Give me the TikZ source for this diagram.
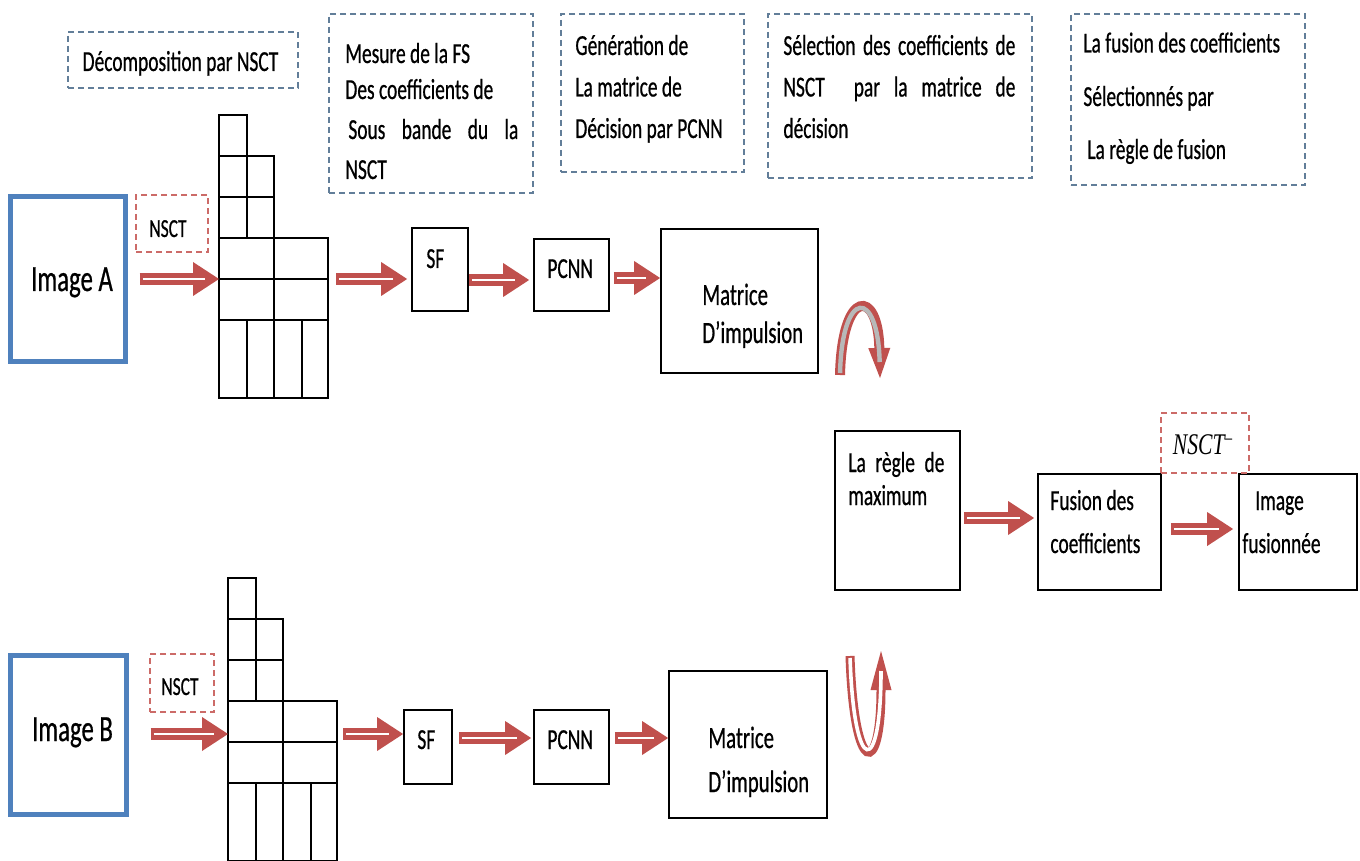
\documentclass[tikz,border=0pt]{standalone}
\usepackage{fontspec}
\usepackage{graphicx}
\setmainfont{Carlito}[FakeStretch=0.67,FakeBold=0.6]
\newfontfamily\serifit{Liberation Serif}[FakeStretch=0.72]
\usetikzlibrary{arrows.meta,calc}

\definecolor{arrowred}{HTML}{C0504D}
\definecolor{imgblue}{HTML}{4F81BD}
\definecolor{noteblue}{HTML}{627E99}
\definecolor{notered}{HTML}{CC6B68}
\definecolor{archfill}{HTML}{B8B8B8}

\tikzset{
  blk/.style={draw=black, line width=0.9pt, inner sep=0pt},
  imgbox/.style={draw=imgblue, line width=2.5pt, inner sep=0pt},
  note/.style={draw=noteblue, line width=0.75pt, dash pattern=on 3pt off 2pt, inner sep=0pt},
  rednote/.style={draw=notered, line width=0.75pt, dash pattern=on 3pt off 2pt, inner sep=0pt},
  txt/.style={inner sep=0pt, anchor=base west, font=\fontsize{14.5pt}{17pt}\selectfont},
  bigtxt/.style={txt, anchor=base, font=\fontsize{18.5pt}{22pt}\selectfont},
  mattxt/.style={txt, font=\fontsize{15.5pt}{18pt}\selectfont},
  smalltxt/.style={txt, anchor=base, font=\fontsize{13pt}{15pt}\selectfont},
  gridline/.style={draw=black, line width=1pt},
  fat/.style={draw=arrowred, line width=6.3pt,
    -{Triangle[length=13pt,width=17pt,line width=0pt]},
    postaction={draw=white, line width=1.2pt, -, shorten <=1.5pt, shorten >=7pt}},
  archarrow/.style={draw=arrowred, line width=5pt,
    -{Triangle[length=15pt,width=11pt,line width=0pt]},
    postaction={draw=archfill, line width=2.2pt, -, shorten <=1pt, shorten >=8pt}},
  uarrow/.style={draw=arrowred, line width=4.5pt,
    -{Triangle[length=19.5pt,width=10.5pt,line width=0pt]},
    postaction={draw=white, line width=1.8pt, -, shorten <=1pt, shorten >=10pt}},
  decomp/.pic={
    \draw[gridline] (0,0) rectangle (27.5,41);
    \draw[gridline] (0,41) rectangle (55,123);
    \draw[gridline] (0,82) -- (55,82) (27.5,41) -- (27.5,123);
    \draw[gridline] (0,123) rectangle (109,205);
    \draw[gridline] (0,164) -- (109,164) (55,123) -- (55,205);
    \draw[gridline] (0,205) rectangle (109,283);
    \draw[gridline] (27.5,205) -- (27.5,283) (55,205) -- (55,283) (82.5,205) -- (82.5,283);
    \coordinate (-in) at (0,164);
    \coordinate (-out) at (109,164);
  }
}

\begin{document}
\begin{tikzpicture}[x=0.5pt,y=-0.5pt]
\fill[white] (0,0) rectangle (1360,861);
\useasboundingbox (0,0) rectangle (1360,861);

% ---- explanatory notes along the top ----
\node[note, minimum width=115pt, minimum height=28pt] (n1) at (183,60) {};
\node[txt, anchor=base] (n1t) at (180.5,71) {Décomposition par NSCT};

\node[note, minimum width=102pt, minimum height=89.5pt] (n2) at (431,103.5) {};
\node[txt] (n2a) at (345,63) {Mesure de la FS};
\node[txt] (n2b) at (345,99) {Des coefficients de};
\node[txt] (n2c) at (348,139) {\makebox[85pt][s]{Sous bande du la}};
\node[txt] (n2d) at (345,179) {NSCT};

\node[note, minimum width=91.5pt, minimum height=79pt] (n3) at (652.5,93) {};
\node[txt] (n3a) at (575,55) {Génération de};
\node[txt] (n3b) at (575,96.5) {La matrice de};
\node[txt] (n3c) at (575,138) {Décision par PCNN};

\node[note, minimum width=132pt, minimum height=82pt] (n4) at (900,96) {};
\node[txt] (n4a) at (783,55) {\makebox[116pt][s]{Sélection des coefficients de}};
\node[txt] (n4b) at (783,96.5) {\makebox[116pt][s]{NSCT\quad par la matrice de}};
\node[txt] (n4c) at (783,138) {décision};

\node[note, minimum width=117pt, minimum height=85.5pt] (n5) at (1188,99.5) {};
\node[txt] (n5a) at (1083,52.5) {La fusion des coefficients};
\node[txt] (n5b) at (1083,106) {Sélectionnés par};
\node[txt] (n5c) at (1087,159) {La règle de fusion};

% ---- branch A ----
\node[imgbox, minimum width=57.5pt, minimum height=82.5pt] (imgA) at (68,279) {};
\node[bigtxt] (imgAt) at (72,291) {Image A};
\node[rednote, minimum width=36pt, minimum height=28.5pt] (nsA) at (172,223.5) {};
\node[smalltxt] (nsAt) at (168,237) {NSCT};
\pic (gA) at (219,115) {decomp};

\node[blk, minimum width=28pt, minimum height=41.5pt] (sfA) at (440,269.5) {};
\node[txt] (sfAt) at (426,268) {SF};
\node[blk, minimum width=37.5pt, minimum height=36pt] (pcnnA) at (571.5,275) {};
\node[txt] (pcnnAt) at (547,278) {PCNN};
\node[blk, minimum width=78.5pt, minimum height=72pt] (matA) at (739.5,301) {};
\node[mattxt] (matAt1) at (702,305) {Matrice};
\node[mattxt] (matAt2) at (702,343) {D’impulsion};

\path ($(imgA.east)+(11.5,0)$) coordinate (a1s);
\draw[fat] (a1s) -- (a1s -| gA-in);
\path ($(gA-out)+(8,0)$) coordinate (a2s);
\draw[fat] (a2s) -- ($(a2s -| sfA.west)+(-4,0)$);
\path ($(sfA.east)+(0,10.5)$) coordinate (a3s);
\draw[fat] (a3s) -- ($(a3s -| pcnnA.west)+(-4,0)$);
\path ($(pcnnA.east)+(4,3)$) coordinate (a4s);
\draw[fat] (a4s) -- (a4s -| matA.west);

% ---- branch B ----
\node[imgbox, minimum width=58pt, minimum height=79.5pt] (imgB) at (68.5,735) {};
\node[bigtxt] (imgBt) at (72.5,741) {Image B};
\node[rednote, minimum width=32pt, minimum height=29pt] (nsB) at (182,683) {};
\node[smalltxt] (nsBt) at (180,695) {NSCT};
\pic (gB) at (228,578) {decomp};

\node[blk, minimum width=24pt, minimum height=37pt] (sfB) at (428,747) {};
\node[txt] (sfBt) at (417,749) {SF};
\node[blk, minimum width=37.5pt, minimum height=37pt] (pcnnB) at (571.5,747) {};
\node[txt] (pcnnBt) at (547,749) {PCNN};
\node[blk, minimum width=79pt, minimum height=73.5pt] (matB) at (748,744.5) {};
\node[mattxt] (matBt1) at (708,748) {Matrice};
\node[mattxt] (matBt2) at (708,792) {D’impulsion};

\path ($(imgB.east)+(21.5,-1)$) coordinate (b1s);
\draw[fat] (b1s) -- (b1s -| gB-in);
\path ($(gB-out)+(6,-8)$) coordinate (b2s);
\draw[fat] (b2s) -- (b2s -| sfB.west);
\path ($(sfB.east)+(6,-9)$) coordinate (b3s);
\draw[fat] (b3s) -- ($(b3s -| pcnnB.west)+(-2,0)$);
\path ($(pcnnB.east)+(5,-9)$) coordinate (b4s);
\draw[fat] (b4s) -- (b4s -| matB.west);

% ---- the two impulse matrices meet in the decision rule ----
\coordinate (cA1) at (840,375);
\coordinate (cA2) at (880,378);
\draw[archarrow] (cA1) .. controls (842,288) and (878,288) .. (cA2);
\coordinate (uB1) at (850,656);
\coordinate (uB2) at (881,651);
\draw[uarrow] (uB1) .. controls (854,778) and (881,778) .. (uB2);

% ---- fusion and reconstruction ----
\node[blk, minimum width=62.5pt, minimum height=79.5pt] (regle) at (897.5,510.5) {};
\node[txt] (reglet1) at (848,472) {\makebox[48pt][s]{La règle de}};
\node[txt] (reglet2) at (848,505) {maximum};
\node[blk, minimum width=61.5pt, minimum height=58pt] (fusion) at (1099.5,532) {};
\node[txt] (fusiont1) at (1050,510) {Fusion des};
\node[txt] (fusiont2) at (1050,553) {coefficients};
\node[blk, minimum width=59pt, minimum height=58pt] (imgF) at (1298,532) {};
\node[txt] (imgFt1) at (1255,510) {Image};
\node[txt] (imgFt2) at (1242,553) {fusionnée};
\node[rednote, minimum width=44pt, minimum height=30pt] (nsI) at (1205,443) {};
\node[inner sep=0pt, font=\fontsize{15pt}{18pt}\selectfont] (nsIt) at (1203,445) {\serifit\itshape NSCT\textsuperscript{\upshape –}};

\path ($(regle.east)+(3,7.5)$) coordinate (m1s);
\draw[fat] (m1s) -- ($(m1s -| fusion.west)+(-3,0)$);
\path ($(fusion.east)+(9,-3)$) coordinate (m2s);
\draw[fat] (m2s) -- ($(m2s -| imgF.west)+(-5,0)$);
\end{tikzpicture}
\end{document}
